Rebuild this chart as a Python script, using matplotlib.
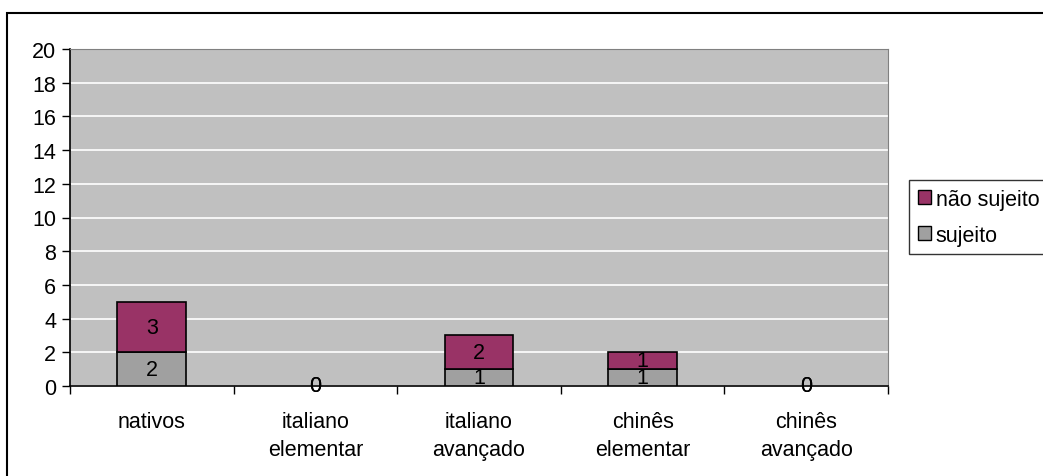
import matplotlib
matplotlib.use('Agg')
import matplotlib.pyplot as plt
from matplotlib.patches import Rectangle
import numpy as np

plt.rcParams['font.family'] = ['Liberation Sans', 'DejaVu Sans']

# categories and counts
grupos = ['nativos', 'italiano\nelementar', 'italiano\navançado', 'chinês\nelementar', 'chinês\navançado']
sujeito = [2, 0, 1, 1, 0]
nao_sujeito = [3, 0, 2, 1, 0]

fs = 15.5

fig = plt.figure(figsize=(10.43, 4.77), dpi=100)
ax = fig.add_axes([70/1043, 1 - 387/477, 818/1043, 337/477])

# chart border
fig.patches.append(Rectangle((7/1043, -0.2), 2.0, 0.2 + (1 - 14/477), transform=fig.transFigure,
                             facecolor='none', edgecolor='black', linewidth=1.5))

x = np.arange(len(grupos))
# no outline on empty segments
ec1 = ['black' if v > 0 else 'none' for v in sujeito]
ec2 = ['black' if v > 0 else 'none' for v in nao_sujeito]
b1 = ax.bar(x, sujeito, width=0.42, color='#a0a0a0', edgecolor=ec1, linewidth=1.2,
            label='sujeito', zorder=3)
b2 = ax.bar(x, nao_sujeito, width=0.42, bottom=sujeito, color='#993366', edgecolor=ec2,
            linewidth=1.2, label='não sujeito', zorder=3)
ax.bar_label(b1, labels=[str(v) for v in sujeito], label_type='center', fontsize=fs, zorder=4)
ax.bar_label(b2, labels=[str(v) for v in nao_sujeito], label_type='center', fontsize=fs, zorder=4)

ax.set_facecolor('#c0c0c0')
ax.set_xlim(-0.5, len(grupos) - 0.5)
ax.set_ylim(0, 20)
ax.set_yticks(range(0, 21, 2))
ax.yaxis.grid(True, color='white', linewidth=1.2, zorder=1)
ax.set_axisbelow(True)

ax.set_xticks(np.arange(-0.5, len(grupos), 1.0))
ax.set_xticklabels([])
ax.set_xticks(x, minor=True)
ax.set_xticklabels(grupos, minor=True, fontsize=fs, linespacing=1.45)
ax.tick_params(axis='x', which='minor', length=0, pad=18)
ax.tick_params(axis='x', which='major', length=6, width=1, color='black')
ax.tick_params(axis='y', length=6, width=1, labelsize=fs, pad=4)

for s in ['top', 'right']:
    ax.spines[s].set_color('#808080')
ax.spines['left'].set_linewidth(1.2)
ax.spines['bottom'].set_linewidth(1.2)

handles, labels = ax.get_legend_handles_labels()
leg = fig.legend(handles[::-1], labels[::-1], loc='upper left',
                 bbox_to_anchor=(909/1043, 1 - 181/477), fontsize=fs, frameon=True,
                 fancybox=False, edgecolor='black', handlelength=0.6, handleheight=0.6,
                 handletextpad=0.25, borderpad=0.4, labelspacing=0.7, borderaxespad=0)
leg.get_frame().set_linewidth(1.0)
for h in leg.legend_handles:
    h.set_edgecolor('black')
    h.set_linewidth(1.0)

fig.savefig('out.png', dpi=100)
